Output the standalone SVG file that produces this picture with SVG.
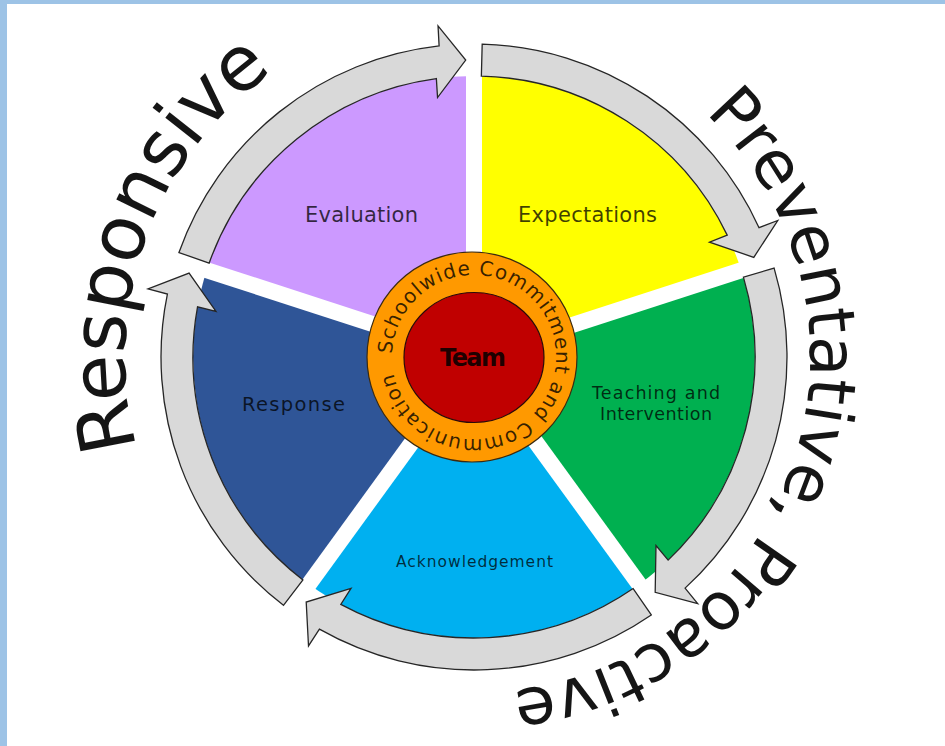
<svg xmlns="http://www.w3.org/2000/svg" width="945" height="746" viewBox="0 0 945 746">
<style>
.lbl{font-family:"DejaVu Sans","Liberation Sans",sans-serif;fill:#000;fill-opacity:0.75;text-anchor:middle}
.big{font-family:"DejaVu Sans","Liberation Sans",sans-serif;fill:#151515}
.arrow{fill:#D9D9D9;stroke:#262626;stroke-width:1.3;stroke-linejoin:miter}
.gap{stroke:#FFFFFF;stroke-width:16;stroke-linecap:butt}
</style>
<defs>
<path id="ringPath" d="M392,357 A82,82 0 1 1 556,357 A82,82 0 1 1 392,357"/>
<path id="leftArc" d="M146.05,476.36 A349,349 0 0 1 354.64,29.05"/>
<path id="rightArc" d="M642,66.02 A336,336 0 0 1 415.65,687.89"/>
</defs>
<rect x="0" y="0" width="945" height="746" fill="#FFFFFF"/>
<rect x="0" y="0" width="945" height="4" fill="#9DC3E6"/>
<rect x="0" y="0" width="7" height="746" fill="#9DC3E6"/>

<g id="sector-expectations">
<path d="M474,357 L474,76 A281,281 0 0 1 741.25,270.17 Z" fill="#FFFF00"/>
</g>
<g id="sector-teaching">
<path d="M474,357 L741.25,270.17 A281,281 0 0 1 639.17,584.33 Z" fill="#00B050"/>
</g>
<g id="sector-acknowledgement">
<path d="M474,357 L639.17,584.33 A281,281 0 0 1 308.83,584.33 Z" fill="#00B0F0"/>
</g>
<g id="sector-response">
<path d="M474,357 L308.83,584.33 A281,281 0 0 1 206.75,270.17 Z" fill="#2F5597"/>
</g>
<g id="sector-evaluation">
<path d="M474,357 L206.75,270.17 A281,281 0 0 1 474,76 Z" fill="#CC99FF"/>
</g>
<g id="gaps">
<line class="gap" x1="474" y1="357" x2="474" y2="57"/>
<line class="gap" x1="474" y1="357" x2="759.32" y2="264.29"/>
<line class="gap" x1="474" y1="357" x2="650.34" y2="599.71"/>
<line class="gap" x1="474" y1="357" x2="297.66" y2="599.71"/>
<line class="gap" x1="474" y1="357" x2="188.68" y2="264.29"/>
</g>

<g id="connectors">
<path class="arrow" d="M482.19,44.11 A313,313 0 0 1 759.04,227.70 L777.74,220.50 L753.79,257.37 L709.48,242.15 L727.20,235.14 A281,281 0 0 0 481.36,76.10 Z"/>
<path class="arrow" d="M774.11,268.10 A313,313 0 0 1 685.06,588.14 L697.68,603.69 L655.18,592.33 L656.00,545.47 L668.14,560.15 A281,281 0 0 0 743.43,277.19 Z"/>
<path class="arrow" d="M651.29,614.95 A313,313 0 0 1 319.40,629.15 L308.51,645.97 L306.20,602.06 L351.00,588.33 L340.78,604.41 A281,281 0 0 0 633.16,588.58 Z"/>
<path class="arrow" d="M283.46,605.32 A313,313 0 0 1 167.39,294.06 L148.04,288.90 L189.08,273.15 L215.98,311.50 L197.53,306.76 A281,281 0 0 0 302.94,579.93 Z"/>
<path class="arrow" d="M178.95,252.52 A313,313 0 0 1 439.11,45.95 L438.04,25.95 L465.71,60.12 L437.54,97.55 L436.35,78.53 A281,281 0 0 0 209.12,263.20 Z"/>
</g>

<g id="label-evaluation"><text class="lbl" x="361.5" y="222" font-size="21" textLength="113">Evaluation</text></g>
<g id="label-expectations"><text class="lbl" x="587.5" y="222" font-size="21" textLength="139">Expectations</text></g>
<g id="label-teaching">
<text class="lbl" x="656" y="399" font-size="17.5" textLength="128">Teaching and</text>
<text class="lbl" x="656" y="420" font-size="17.5" textLength="112">Intervention</text>
</g>
<g id="label-response"><text class="lbl" x="293.5" y="411" font-size="19.5" textLength="103">Response</text></g>
<g id="label-acknowledgement"><text class="lbl" x="474.5" y="567" font-size="15.5" textLength="157">Acknowledgement</text></g>

<g id="commitment-ring">
<circle cx="472" cy="357" r="105" fill="#FF9900" stroke="#3a2a10" stroke-width="1.2"/>
<text font-family="DejaVu Sans, Liberation Sans, sans-serif" font-size="20" fill="#000" fill-opacity="0.78"><textPath href="#ringPath" startOffset="3" textLength="495">Schoolwide Commitment and Communication</textPath></text>
</g>
<g id="team">
<ellipse cx="474" cy="357.5" rx="70" ry="65" fill="#C00000" stroke="#2a0a0a" stroke-width="1.2"/>
<text x="473" y="366" font-family="DejaVu Sans, Liberation Sans, sans-serif" font-weight="bold" font-size="24" text-anchor="middle" textLength="66" fill="#000" fill-opacity="0.85">Team</text>
</g>

<g id="title-responsive">
<text class="big" font-size="76"><textPath href="#leftArc" startOffset="30" textLength="426">Responsive</textPath></text>
</g>
<g id="title-preventative">
<text class="big" font-size="66"><textPath href="#rightArc" startOffset="79" textLength="762">Preventative, Proactive</textPath></text>
</g>
</svg>
